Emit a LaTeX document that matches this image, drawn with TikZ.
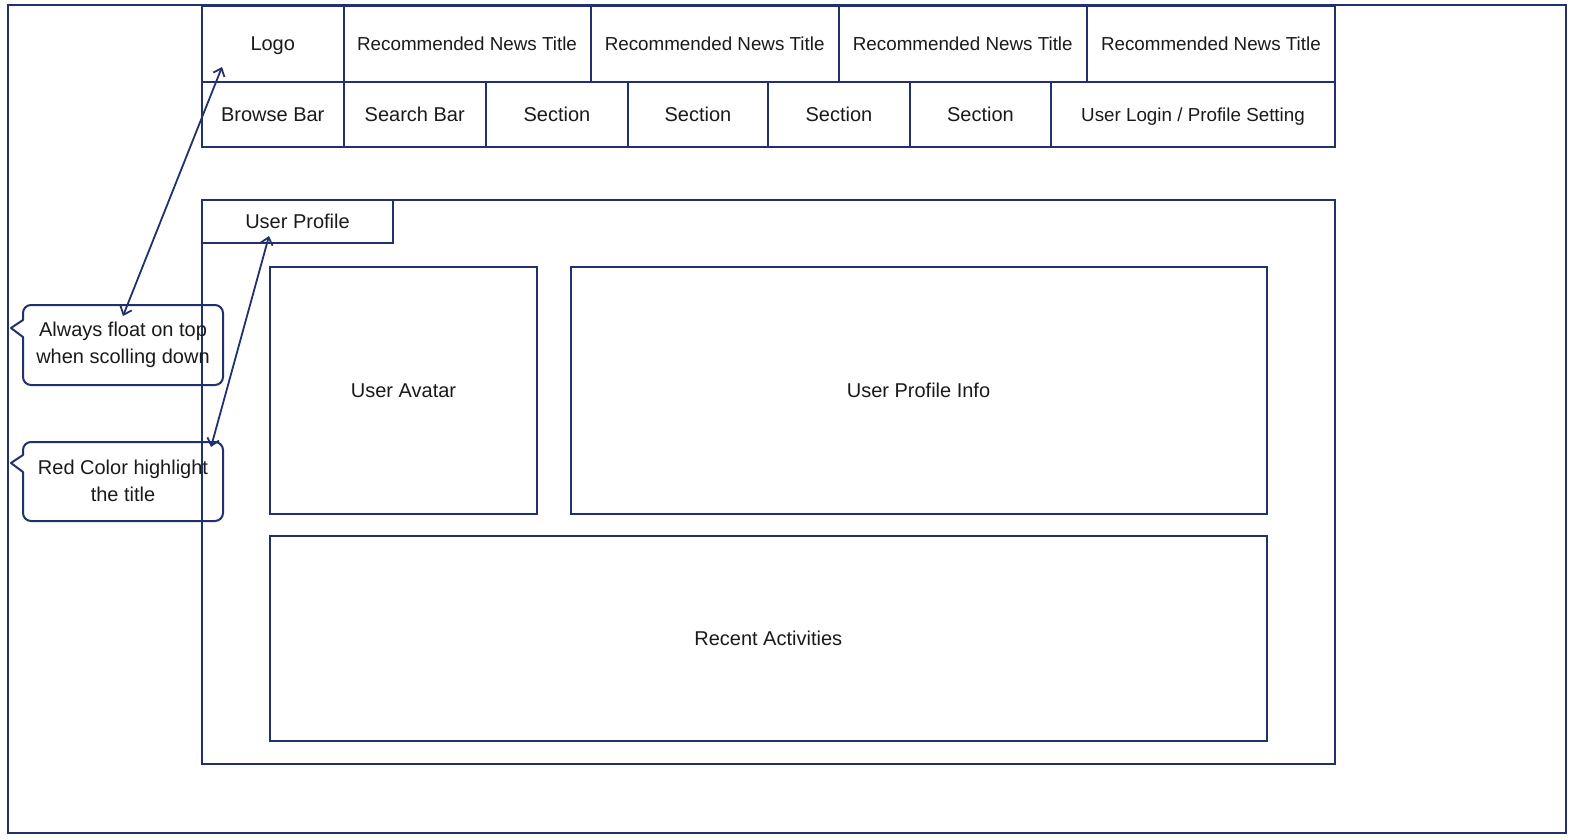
\documentclass[tikz,border=0pt]{standalone}
\usepackage{fontspec}
\setmainfont{Liberation Sans}
\usetikzlibrary{arrows.meta}
\definecolor{navy}{HTML}{22306E}
\definecolor{ink}{HTML}{1A1A1A}
\begin{document}
\begin{tikzpicture}[x=1pt,y=-1pt,
  cell/.style={draw=navy, line width=2pt, anchor=north west, inner sep=0pt, text=ink,
    font=\fontsize{20}{26}\selectfont, align=center, text height=18pt, text depth=4pt},
  small/.style={font=\fontsize{18.8}{24}\selectfont},
  frame/.style={draw=navy, line width=2pt, anchor=north west, inner sep=0pt},
  ctext/.style={text=ink, font=\fontsize{20}{27}\selectfont, align=center, inner sep=0pt},
  callout/.style={draw=navy, line width=2pt, line join=round, line cap=round},
  link/.style={draw=navy, line width=1.8pt, {Straight Barb[length=7pt,width=12pt]}-{Straight Barb[length=7pt,width=12pt]}}]
\useasboundingbox (0,0) rectangle (1575,840);
% outer page frame
\node[frame, minimum width=1558pt, minimum height=828pt] (page) at (7,4) {};
% header row 1
\node[cell, minimum width=141.5pt, minimum height=76pt] (logo) at (201,5) {Logo};
\node[cell, small, minimum width=247.1pt, minimum height=76pt] (rec1) at (342.5,5) {Recommended News Title};
\node[cell, small, minimum width=248.1pt, minimum height=76pt] (rec2) at (589.6,5) {Recommended News Title};
\node[cell, small, minimum width=248.1pt, minimum height=76pt] (rec3) at (837.7,5) {Recommended News Title};
\node[cell, small, minimum width=248.2pt, minimum height=76pt] (rec4) at (1085.8,5) {Recommended News Title};
% header row 2
\node[cell, minimum width=141.5pt, minimum height=65pt] (browse) at (201,81) {Browse Bar};
\node[cell, minimum width=142.5pt, minimum height=65pt] (search) at (342.5,81) {Search Bar};
\node[cell, minimum width=142pt, minimum height=65pt] (sec1) at (485,81) {Section};
\node[cell, minimum width=140pt, minimum height=65pt] (sec2) at (627,81) {Section};
\node[cell, minimum width=142pt, minimum height=65pt] (sec3) at (767,81) {Section};
\node[cell, minimum width=141pt, minimum height=65pt] (sec4) at (909,81) {Section};
\node[cell, small, minimum width=284pt, minimum height=65pt] (login) at (1050,81) {User Login / Profile Setting};
% profile area
\node[frame, minimum width=1133pt, minimum height=564pt] (profile) at (201,199) {};
\node[cell, minimum width=191pt, minimum height=43pt] (tab) at (201,199) {User Profile};
\node[cell, minimum width=267pt, minimum height=247pt] (avatar) at (269,266) {User Avatar};
\node[cell, minimum width=696pt, minimum height=247pt] (info) at (569.5,266) {User Profile Info};
\node[cell, minimum width=996.5pt, minimum height=205pt] (recent) at (269,535) {Recent Activities};
% callouts
\draw[callout] (23,320) -- (11,328) -- (23,337) [rounded corners=8pt] -- (23,385) -- (223,385) -- (223,305) -- (23,305) -- (23,320);
\node[ctext] (c1) at (123,345) {Always float on top\\when scolling down};
\draw[callout] (23,455) -- (11,463) -- (23,472) [rounded corners=8pt] -- (23,521) -- (223,521) -- (223,442) -- (23,442) -- (23,455);
\node[ctext] (c2) at (123,481) {Red Color highlight\\the title};
% connectors
\coordinate (a1s) at (123,316);
\coordinate (a1e) at (222,67);
\draw[link] (a1s) -- (a1e);
\coordinate (a2s) at (211,447);
\coordinate (a2e) at (269,236);
\draw[link] (a2s) -- (a2e);
\end{tikzpicture}
\end{document}
